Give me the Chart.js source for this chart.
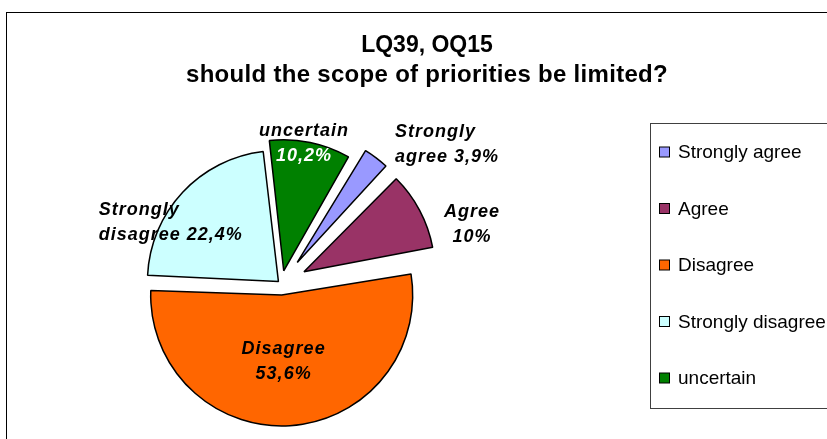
<!DOCTYPE html>
<html>
<head>
<meta charset="utf-8">
<script src="https://cdn.jsdelivr.net/npm/chart.js@4.4.1/dist/chart.umd.min.js"></script>
<style>
  body { margin: 0; background: #fff; }
  canvas { display: block; }
</style>
</head>
<body>
<canvas id="myChart" width="827" height="439"></canvas>
<script>
const categories = ["Strongly agree", "Agree", "Disagree", "Strongly disagree", "uncertain"];
const shares = [3.9, 10, 53.6, 22.4, 10.2];
const sliceColors = ["#9999FF", "#993366", "#FF6600", "#CCFFFF", "#008000"];
const titleLines = ["LQ39, OQ15", "should the scope of priorities be limited?"];

const FONT = '"Liberation Sans", Arial, sans-serif';
const pieRadius = 131;
// how far each slice is pulled out of the pie (px)
const explode = [27, 26, 11, 3.5, 13.5];
// label spot per slice: turn from the slice middle (deg), distance from centre (px)
const labelSpots = [
  { turn: 12.9, dist: 217, align: "left" },
  { turn: 10.7, dist: 200, align: "center" },
  { turn: 1.7, dist: 78, align: "center" },
  { turn: -14, dist: 126, align: "left" },
  { turn: -2.3, dist: 142, align: "center" },
];

//TODO: percent text like excel does it (comma decimals)
function pct(v) {
  return String(v).replace(".", ",") + "%";
}

function labelLines(name, v) {
  let words = name.split(" ");
  if (words.length > 1) return [words[0], words.slice(1).join(" ") + " " + pct(v)];
  return [name, pct(v)];
}

// chart.js grows the radius of an offset arc, put it back so all slices match
const evenRadius = {
  id: "evenRadius",
  afterDatasetsUpdate(chart) {
    chart.getDatasetMeta(0).data.forEach((arc, i) => {
      let fix = 1 - Math.sin(Math.min(Math.PI, arc.circumference));
      arc.outerRadius = pieRadius - explode[i] * fix;
    });
  },
};

const frameAndTitle = {
  id: "frameAndTitle",
  beforeDraw(chart) {
    let ctx = chart.ctx;
    ctx.save();
    ctx.fillStyle = "#fff";
    ctx.fillRect(0, 0, chart.width, chart.height);
    ctx.strokeStyle = "#000";
    ctx.lineWidth = 1;
    ctx.strokeRect(6.5, 12.5, 900, 500);
    ctx.fillStyle = "#000";
    ctx.textAlign = "center";
    ctx.textBaseline = "alphabetic";
    ctx.font = "bold 23px " + FONT;
    ctx.fillText(titleLines[0], 427, 52);
    ctx.font = "bold 24px " + FONT;
    ctx.letterSpacing = "0.3px";
    ctx.fillText(titleLines[1], 427, 82);
    ctx.restore();
  },
};

const legendBox = {
  id: "legendBox",
  afterDraw(chart) {
    let ctx = chart.ctx;
    ctx.save();
    ctx.strokeStyle = "#404040";
    ctx.lineWidth = 1;
    ctx.strokeRect(650.5, 123.5, 300, 285);
    ctx.font = "19px " + FONT;
    ctx.textBaseline = "middle";
    ctx.textAlign = "left";
    categories.forEach((c, i) => {
      let y = 152 + i * 56.5;
      ctx.fillStyle = sliceColors[i];
      ctx.fillRect(659.5, y - 5, 10, 10);
      ctx.strokeStyle = "#000";
      ctx.strokeRect(659.5, y - 5, 10, 10);
      ctx.fillStyle = "#000";
      ctx.fillText(c, 678, y + 1);
    });
    ctx.restore();
  },
};

const sliceLabels = {
  id: "sliceLabels",
  afterDatasetsDraw(chart) {
    let ctx = chart.ctx;
    ctx.save();
    ctx.font = "italic bold 18px " + FONT;
    ctx.letterSpacing = "1px";
    ctx.textBaseline = "middle";
    chart.getDatasetMeta(0).data.forEach((arc, i) => {
      let spot = labelSpots[i];
      let ang = (arc.startAngle + arc.endAngle) / 2 + (spot.turn * Math.PI) / 180;
      let cx = arc.x + Math.cos(ang) * spot.dist;
      let cy = arc.y + Math.sin(ang) * spot.dist;
      let lines = labelLines(categories[i], shares[i]);
      let w = Math.max(...lines.map((l) => ctx.measureText(l).width));
      lines.forEach((l, j) => {
        let y = cy + (j - (lines.length - 1) / 2) * 25;
        // uncertain has its number on the dark green slice
        ctx.fillStyle = i == 4 && j == 1 ? "#fff" : "#000";
        if (spot.align == "left") {
          ctx.textAlign = "left";
          ctx.fillText(l, cx - w / 2, y);
        } else {
          ctx.textAlign = "center";
          ctx.fillText(l, cx, y);
        }
      });
    });
    ctx.restore();
  },
};

let myChart = new Chart(document.getElementById("myChart").getContext("2d"), {
  type: "pie",
  data: {
    labels: categories,
    datasets: [
      {
        data: shares,
        backgroundColor: sliceColors,
        borderColor: "#000",
        borderWidth: 1.5,
        offset: explode.map((e) => e * 4),
      },
    ],
  },
  options: {
    responsive: false,
    devicePixelRatio: 1,
    animation: false,
    events: [],
    rotation: 30,
    radius: pieRadius,
    layout: { padding: { left: 10, right: 275, top: 134, bottom: 5 } },
    plugins: {
      legend: { display: false },
      title: { display: false },
      tooltip: { enabled: false },
    },
  },
  plugins: [evenRadius, frameAndTitle, legendBox, sliceLabels],
});
</script>
</body>
</html>
